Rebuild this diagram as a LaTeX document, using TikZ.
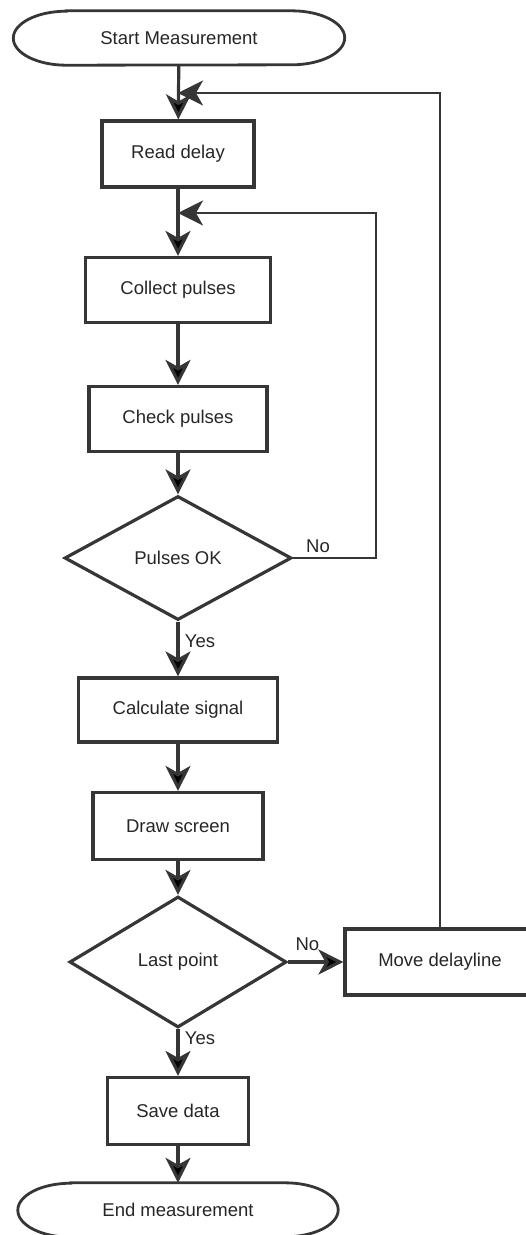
\documentclass[tikz,border=0pt]{standalone}
\usepackage{fontspec}
\setmainfont{Liberation Sans}
\usetikzlibrary{arrows.meta,shapes.geometric}
\definecolor{ink}{HTML}{363636}

% stadium outline drawn round a terminal node
\newcommand{\stadium}[1]{%
  \draw[draw=ink, line width=2.8pt]
    ([xshift=53pt]#1.north west) -- ([xshift=-53pt]#1.north east)
    arc[start angle=90, end angle=-90, x radius=53pt, y radius=27pt]
    -- ([xshift=53pt]#1.south west)
    arc[start angle=270, end angle=90, x radius=53pt, y radius=27pt] -- cycle;}

\begin{document}
\begin{tikzpicture}
	[
		x=1pt, y=-1pt,
		every node/.style = {font=\fontsize{18.5}{22}\selectfont, text=black!85, align=center},
		box/.style = {draw=ink, line width=3.2pt, shape=rectangle, minimum height=65pt},
		decision/.style = {draw=ink, line width=3.2pt, shape=diamond, inner sep=0pt},
		terminal/.style = {shape=rectangle, inner sep=0pt, minimum height=54pt},
		flow/.style = {draw=ink, line width=3.2pt, -{Stealth[length=25pt, width=25pt, inset=7pt]}},
		feedback/.style = {draw=ink, line width=2.4pt, -{Stealth[length=25pt, width=25pt, inset=7pt]}},
	]

  \clip (0,0) rectangle (526,1235);

  \node[terminal, minimum width=331pt] (start) at (179,38) {Start Measurement};
  \node[box, minimum width=152pt, minimum height=66pt] (read) at (178,154) {Read delay};
  \node[box, minimum width=185pt] (collect) at (178,290) {Collect pulses};
  \node[box, minimum width=178pt] (check) at (178,419) {Check pulses};
  \node[decision, minimum width=227pt, minimum height=124pt] (ok) at (178,558) {Pulses OK};
  \node[box, minimum width=199pt, minimum height=64pt] (calc) at (178,710) {Calculate signal};
  \node[box, minimum width=170pt, minimum height=67pt] (screen) at (178,826) {Draw screen};
  \node[decision, minimum width=217pt, minimum height=131pt] (last) at (178,962) {Last point};
  \node[box, minimum width=190pt, minimum height=66pt] (move) at (440,962) {Move delayline};
  \node[box, minimum width=141pt, minimum height=67pt] (save) at (178,1111) {Save data};
  \node[terminal, minimum width=320pt] (stop) at (178,1210) {End measurement};

  \stadium{start}
  \stadium{stop}

  \coordinate (j1) at (178,93);
  \coordinate (j2) at (178,213);
  \coordinate (r2) at (376,213);

  \path[flow]
  (start) edge (read)
  (read) edge (collect)
  (collect) edge (check)
  (check) edge (ok)
  (ok) edge node [right, pos=0.35, xshift=2pt] {Yes} (calc)
  (calc) edge (screen)
  (screen) edge (last)
  (last) edge node [above, pos=0.35, yshift=6pt] {No} (move)
  (last) edge node [right, pos=0.2, xshift=2pt] {Yes} (save)
  (save) edge (stop);

  \draw[feedback] (move.north) |- (j1);
  \draw[feedback] (ok.east) -| node [above, pos=0.15, yshift=1pt] {No} (r2) -- (j2);

\end{tikzpicture}
\end{document}
